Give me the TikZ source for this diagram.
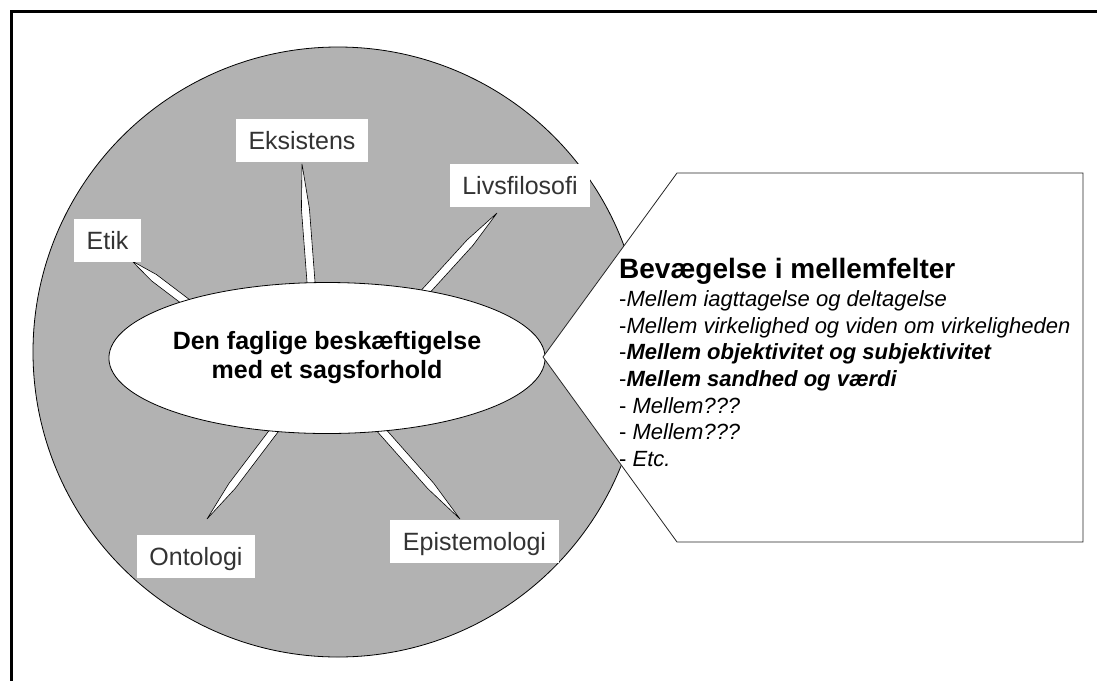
\documentclass[tikz,border=0pt]{standalone}
\usepackage{fontspec}
\setmainfont{Liberation Sans}
\usepackage{tikz}
\usetikzlibrary{shapes.geometric, calc, positioning}
\definecolor{skive}{RGB}{178, 178, 178}
\definecolor{etiket}{RGB}{51, 51, 51}
\tikzset{
    disc/.style={circle, draw=black, fill=skive, line width=0.8pt, minimum size=610pt, inner sep=0pt},
    hub/.style={ellipse, draw=black, fill=white, line width=0.8pt, minimum width=362pt, minimum height=151pt, inner sep=0pt, align=center, font=\bfseries\fontsize{25}{29}\selectfont},
    lab/.style={fill=white, text=etiket, font=\fontsize{25}{30}\selectfont, inner xsep=12.5pt, inner ysep=12.5pt, text height=18pt, text depth=0pt},
    spikeline/.style={draw=black, fill=white, line width=0.6pt, line join=miter},
    callout/.style={draw=black!85, fill=white, line width=0.8pt},
    head/.style={anchor=base west, inner sep=0pt, font=\bfseries\fontsize{28}{32}\selectfont},
    row/.style={anchor=base west, inner sep=0pt, font=\fontsize{22}{26}\selectfont},
    frame/.style={line width=3.5pt, black},
}
% needle from a point on the ellipse (#1) to a tip (#2)
\newcommand{\spids}[2]{%
    \path ($(#1)!-8pt!(#2)$) coordinate (s0) ($(#1)!0.62!(#2)$) coordinate (s1);
    \draw[spikeline] ($(s0)!4pt!90:(#2)$) -- ($(s1)!4pt!90:(#2)$) -- (#2)
        -- ($(s1)!4pt!-90:(#2)$) -- ($(s0)!4pt!-90:(#2)$) -- cycle;
}

\begin{document}
\begin{tikzpicture}[x=1pt, y=-1pt]
    \useasboundingbox (0,0) rectangle (1097,681);

    \node[disc] (disc) at (338,352) {};

    \coordinate (eksBase) at (311,282);
    \coordinate (eksTip) at (302,164);
    \coordinate (etikBase) at (190,305);
    \coordinate (etikTip) at (132,261);
    \coordinate (livsBase) at (426,291);
    \coordinate (livsTip) at (497,213);
    \coordinate (ontoBase) at (273,432);
    \coordinate (ontoTip) at (207,519);
    \coordinate (epiBase) at (383,432);
    \coordinate (epiTip) at (460,519);

    \spids{eksBase}{eksTip}
    \spids{etikBase}{etikTip}
    \spids{livsBase}{livsTip}
    \spids{ontoBase}{ontoTip}
    \spids{epiBase}{epiTip}

    \node[hub] (kerne) at (327,358) {Den faglige beskæftigelse\\med et sagsforhold};

    \node[lab] (eks) at (302,140.5) {Eksistens};
    \node[lab] (etik) at (107.5,240) {Etik};
    \node[lab] (livs) at (520,185.5) {Livsfilosofi};
    \node[lab] (onto) at (196,556) {Ontologi};
    \node[lab] (epi) at (474.5,541) {Epistemologi};

    \draw[callout] (677,173) -- (1083,173) -- (1083,542) -- (677,542) -- (543,357) -- cycle;

    \node[head] (titel) at (619,278) {Bevægelse i mellemfelter};
    \node[row] (r1) at (619,306) {-\textit{Mellem iagttagelse og deltagelse}};
    \node[row] (r2) at (619,333) {-\textit{Mellem virkelighed og viden om virkeligheden}};
    \node[row] (r3) at (619,359) {-\textbf{\textit{Mellem objektivitet og subjektivitet}}};
    \node[row] (r4) at (619,386) {-\textbf{\textit{Mellem sandhed og værdi}}};
    \node[row] (r5) at (619,413) {- \textit{Mellem???}};
    \node[row] (r6) at (619,439) {- \textit{Mellem???}};
    \node[row] (r7) at (619,466) {- \textit{Etc.}};

    \draw[frame] (11.5,10) -- (11.5,681);
    \draw[frame] (10,11.5) -- (1097,11.5);
\end{tikzpicture}
\end{document}
